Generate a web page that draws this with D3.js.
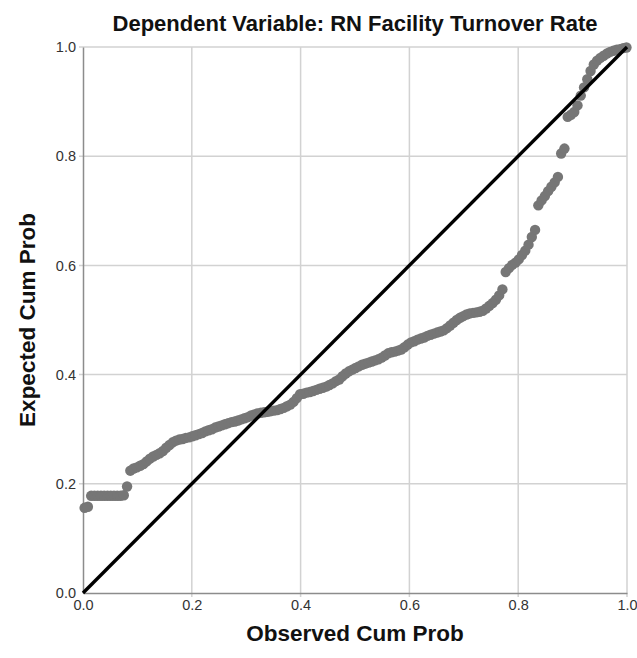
<!DOCTYPE html>
<html>
<head>
<meta charset="utf-8">
<script src="https://cdn.jsdelivr.net/npm/d3@7"></script>
<style>
  body { margin: 0; background: #fff; }
  text { font-family: Arial, "Liberation Sans", sans-serif; }
</style>
</head>
<body>
<div id="chart"></div>
<script>
// P-P plot values
const observedCum = [
  0.003, 0.009, 0.015, 0.021, 0.027, 0.033, 0.039, 0.045, 0.051, 0.057,
  0.063, 0.069, 0.075, 0.081, 0.087, 0.093, 0.099, 0.105, 0.111, 0.117,
  0.123, 0.129, 0.135, 0.141, 0.147, 0.153, 0.159, 0.165, 0.171, 0.177,
  0.183, 0.189, 0.195, 0.201, 0.207, 0.213, 0.219, 0.225, 0.231, 0.237,
  0.243, 0.249, 0.255, 0.261, 0.267, 0.273, 0.279, 0.285, 0.291, 0.297,
  0.303, 0.309, 0.315, 0.321, 0.327, 0.333, 0.339, 0.345, 0.351, 0.357,
  0.363, 0.369, 0.375, 0.381, 0.387, 0.393, 0.399, 0.405, 0.411, 0.417,
  0.423, 0.429, 0.435, 0.441, 0.447, 0.453, 0.459, 0.465, 0.471, 0.477,
  0.483, 0.489, 0.495, 0.501, 0.507, 0.513, 0.519, 0.525, 0.531, 0.537,
  0.543, 0.549, 0.555, 0.561, 0.567, 0.573, 0.579, 0.585, 0.591, 0.597,
  0.603, 0.609, 0.615, 0.621, 0.627, 0.633, 0.639, 0.645, 0.651, 0.657,
  0.663, 0.669, 0.675, 0.681, 0.687, 0.693, 0.699, 0.705, 0.711, 0.717,
  0.723, 0.729, 0.735, 0.741, 0.747, 0.753, 0.759, 0.765, 0.771, 0.777,
  0.783, 0.789, 0.795, 0.801, 0.807, 0.813, 0.819, 0.825, 0.831, 0.837,
  0.843, 0.849, 0.855, 0.861, 0.867, 0.873, 0.879, 0.885, 0.891, 0.897,
  0.903, 0.909, 0.915, 0.921, 0.927, 0.933, 0.939, 0.945, 0.951, 0.957,
  0.963, 0.969, 0.975, 0.981, 0.987, 0.993, 0.999
];
const expectedCum = [
  0.156, 0.158, 0.178, 0.178, 0.178, 0.178, 0.178, 0.178, 0.178, 0.178,
  0.178, 0.178, 0.179, 0.195, 0.224, 0.228, 0.230, 0.233, 0.236, 0.241,
  0.246, 0.250, 0.253, 0.256, 0.260, 0.266, 0.271, 0.276, 0.279, 0.281,
  0.282, 0.284, 0.285, 0.287, 0.289, 0.291, 0.293, 0.296, 0.298, 0.300,
  0.303, 0.305, 0.307, 0.309, 0.311, 0.313, 0.314, 0.316, 0.318, 0.320,
  0.322, 0.325, 0.327, 0.329, 0.330, 0.331, 0.332, 0.333, 0.334, 0.335,
  0.337, 0.339, 0.342, 0.345, 0.350, 0.357, 0.364, 0.365, 0.367, 0.368,
  0.370, 0.372, 0.374, 0.376, 0.378, 0.381, 0.384, 0.388, 0.391, 0.397,
  0.402, 0.406, 0.409, 0.412, 0.415, 0.418, 0.420, 0.422, 0.424, 0.426,
  0.428, 0.431, 0.435, 0.439, 0.441, 0.442, 0.444, 0.446, 0.450, 0.455,
  0.459, 0.461, 0.464, 0.466, 0.468, 0.471, 0.473, 0.475, 0.477, 0.479,
  0.481, 0.485, 0.490, 0.495, 0.500, 0.504, 0.507, 0.510, 0.512, 0.513,
  0.514, 0.515, 0.517, 0.521, 0.526, 0.531, 0.537, 0.545, 0.556, 0.588,
  0.595, 0.601, 0.605, 0.611, 0.619, 0.627, 0.638, 0.652, 0.665, 0.710,
  0.719, 0.727, 0.736, 0.744, 0.752, 0.762, 0.805, 0.814, 0.872, 0.876,
  0.881, 0.893, 0.911, 0.926, 0.941, 0.956, 0.968, 0.975, 0.980, 0.984,
  0.988, 0.991, 0.993, 0.995, 0.996, 0.998, 0.999
];
const tickValues = [0, 0.2, 0.4, 0.6, 0.8, 1.0];
const diagonal = [[0, 0], [1, 1]];

const width = 637, height = 658;
const margin = { top: 47, right: 10, bottom: 65, left: 83 };
const plotW = 544, plotH = 546;

const svg = d3.select("#chart").append("svg")
  .attr("width", width).attr("height", height);

const x = d3.scaleLinear().domain([0, 1]).range([margin.left, margin.left + plotW]);
const y = d3.scaleLinear().domain([0, 1]).range([margin.top + plotH, margin.top]);

// grid
svg.append("g").selectAll("line.vg")
  .data(tickValues.slice(1))
  .enter().append("line")
  .attr("x1", d => x(d)).attr("x2", d => x(d))
  .attr("y1", y(0) + 4).attr("y2", y(1))
  .attr("stroke", "#d2d2d2").attr("stroke-width", 1.5);
svg.append("g").selectAll("line.hg")
  .data(tickValues.slice(1))
  .enter().append("line")
  .attr("x1", x(0) - 4).attr("x2", x(1))
  .attr("y1", d => y(d)).attr("y2", d => y(d))
  .attr("stroke", "#d2d2d2").attr("stroke-width", 1.5);

// axes
const xAxis = d3.axisBottom(x).tickValues(tickValues).tickFormat(d3.format(".1f")).tickSize(0).tickPadding(7);
const yAxis = d3.axisLeft(y).tickValues(tickValues).tickFormat(d3.format(".1f")).tickSize(0).tickPadding(7);

const gx = svg.append("g").attr("transform", `translate(0,${y(0)})`).call(xAxis);
const gy = svg.append("g").attr("transform", `translate(${x(0)},0)`).call(yAxis);
[gx, gy].forEach(g => {
  g.select(".domain").attr("stroke", "#8c8c8c").attr("stroke-width", 1.5);
  g.selectAll("text").attr("font-size", 14.5).attr("fill", "#333")
    .style("font-family", "Arial, 'Liberation Sans', sans-serif");
});

// points
svg.append("g").selectAll("circle")
  .data(observedCum.map((o, i) => [o, expectedCum[i]]))
  .enter().append("circle")
  .attr("cx", d => x(d[0]))
  .attr("cy", d => y(d[1]))
  .attr("r", 5.2)
  .attr("fill", "#767676");

// reference line
svg.append("path")
  .datum(diagonal)
  .attr("d", d3.line().x(d => x(d[0])).y(d => y(d[1])))
  .attr("stroke", "#000").attr("stroke-width", 3.4).attr("fill", "none");

// titles
svg.append("text")
  .attr("x", x(0.5)).attr("y", 31)
  .attr("text-anchor", "middle")
  .attr("font-size", 22).attr("font-weight", "bold").attr("fill", "#111")
  .text("Dependent Variable: RN Facility Turnover Rate");

svg.append("text")
  .attr("x", x(0.5)).attr("y", 641)
  .attr("text-anchor", "middle")
  .attr("font-size", 22.5).attr("font-weight", "bold").attr("fill", "#111")
  .text("Observed Cum Prob");

svg.append("text")
  .attr("transform", `translate(35,${y(0.5)}) rotate(-90)`)
  .attr("text-anchor", "middle")
  .attr("font-size", 22.5).attr("font-weight", "bold").attr("fill", "#111")
  .text("Expected Cum Prob");
</script>
</body>
</html>
